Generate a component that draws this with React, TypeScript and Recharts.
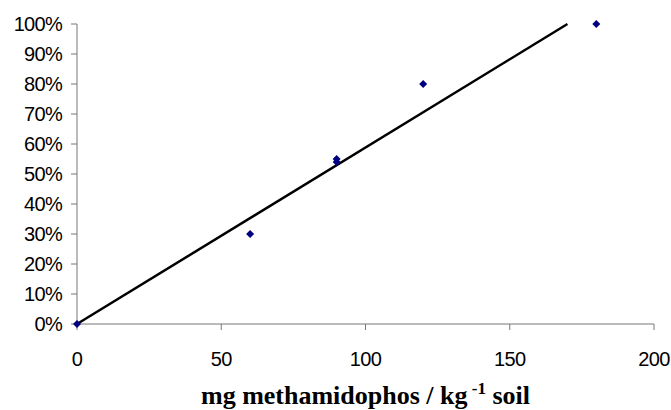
import { ScatterChart, Scatter, XAxis, YAxis } from 'recharts';

// observed mortality vs dose
const doses = [0, 60, 90, 90, 120, 180];
const mortality = [0, 0.3, 0.55, 0.54, 0.8, 1.0];

// linear trend through origin, clipped at 100%
const trendX = [0, 170];
const trendY = [0, 1.0];

const xTicks = [0, 50, 100, 150, 200];
const yTicks = [0, 0.1, 0.2, 0.3, 0.4, 0.5, 0.6, 0.7, 0.8, 0.9, 1.0];

const points = doses.map((x, i) => ({ x, y: mortality[i] }));
const trend = trendX.map((x, i) => ({ x, y: trendY[i] }));

const Diamond = (props: any) => {
  const { cx, cy } = props;
  const r = 4;
  return (
    <polygon
      points={`${cx},${cy - r} ${cx + r},${cy} ${cx},${cy + r} ${cx - r},${cy}`}
      fill="#000080"
    />
  );
};

const XTitle = (props: any) => {
  const { viewBox } = props;
  const cx = viewBox.x + viewBox.width / 2;
  return (
    <text
      x={cx}
      y={viewBox.y + 80}
      textAnchor="middle"
      fontFamily="'Liberation Serif', 'Times New Roman', serif"
      fontWeight="bold"
      fontSize={26}
      fill="#000"
    >
      mg methamidophos / kg
      <tspan dy={-10} fontSize={17}> -1</tspan>
      <tspan dy={10}> soil</tspan>
    </text>
  );
};

const tickFont = {
  fontFamily: "'Liberation Sans', Arial, sans-serif",
  fontSize: 20,
  letterSpacing: -0.7,
  fill: '#000',
};

export default function App() {
  return (
    <div style={{ position: 'absolute', left: 0, top: 0, background: '#fff' }}>
      <ScatterChart
        width={671}
        height={410}
        margin={{ top: 24, right: 17, bottom: 0, left: 0 }}
      >
        <XAxis
          type="number"
          dataKey="x"
          domain={[0, 200]}
          ticks={xTicks}
          stroke="#777"
          tickSize={6}
          tickMargin={22}
          tick={tickFont}
          height={86}
          label={{ content: <XTitle /> }}
        />
        <YAxis
          type="number"
          dataKey="y"
          domain={[0, 1]}
          ticks={yTicks}
          stroke="#777"
          width={77}
          tickSize={6}
          tickMargin={9}
          tick={tickFont}
          tickFormatter={(v: number) => `${Math.round(v * 100)}%`}
        />
        <Scatter
          data={trend}
          line={{ stroke: '#000', strokeWidth: 2.5 }}
          shape={() => <g />}
          isAnimationActive={false}
        />
        <Scatter data={points} shape={<Diamond />} isAnimationActive={false} />
      </ScatterChart>
    </div>
  );
}
